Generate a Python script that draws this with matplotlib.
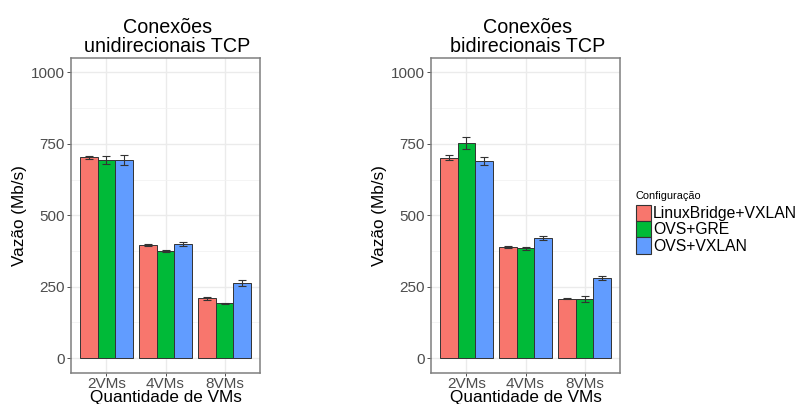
import matplotlib
matplotlib.use('Agg')
from matplotlib import pyplot as plt
from matplotlib.patches import Patch
from matplotlib.ticker import MultipleLocator
import numpy as np

plt.rcParams['font.family'] = ['Liberation Sans', 'DejaVu Sans']

grupos = ['2VMs', '4VMs', '8VMs']
configs = ['LinuxBridge+VXLAN', 'OVS+GRE', 'OVS+VXLAN']
cores = ['#F8766D', '#00BA38', '#619CFF']

# vazao media (Mb/s) e desvio, uma linha por configuracao
uni_media = [[703, 396, 210],
             [694, 375, 192],
             [694, 401, 263]]
uni_erro = [[5, 3, 5],
            [13, 5, 2],
            [17, 7, 11]]
bi_media = [[701, 389, 208],
            [753, 384, 208],
            [689, 420, 281]]
bi_erro = [[9, 3, 2],
           [20, 6, 10],
           [14, 6, 6]]

W, H = 798, 404
fig = plt.figure(figsize=(W / 100, H / 100), dpi=100)

def painel(px0, px1, py0, py1, media, erro, titulo):
    ax = fig.add_axes([px0 / W, 1 - py1 / H, (px1 - px0) / W, (py1 - py0) / H])
    x = np.arange(1, len(grupos) + 1)
    larg = 0.3
    for i in range(len(configs)):
        xs = x + (i - 1) * larg
        ax.bar(xs, media[i], width=larg, color=cores[i], edgecolor='#333333',
               linewidth=0.7, zorder=3)
        ax.errorbar(xs, media[i], yerr=erro[i], fmt='none', ecolor='#333333',
                    elinewidth=0.8, capsize=3, capthick=0.8, zorder=4)
    ax.set_xlim(0.4, 3.6)
    ax.set_ylim(-50, 1050)
    ax.set_xticks(x)
    ax.set_xticklabels(grupos)
    ax.yaxis.set_major_locator(MultipleLocator(250))
    ax.yaxis.set_minor_locator(MultipleLocator(125))
    ax.grid(True, which='major', color='#EBEBEB', linewidth=1.0, zorder=0)
    ax.grid(True, which='minor', axis='y', color='#F2F2F2', linewidth=0.6, zorder=0)
    ax.set_axisbelow(True)
    for s in ax.spines.values():
        s.set_color('#7F7F7F')
        s.set_linewidth(1.1)
    ax.tick_params(axis='both', which='major', labelsize=11, labelcolor='#4D4D4D',
                   color='#333333', length=3, width=0.6, pad=1.5)
    ax.tick_params(axis='x', which='major', length=2.5, pad=0.5)
    ax.tick_params(axis='y', which='minor', length=0)
    ax.set_xlabel('Quantidade de VMs', fontsize=12.3, labelpad=-0.5)
    ax.set_ylabel('Vazão (Mb/s)', fontsize=12.3, labelpad=3)
    ax.set_title(titulo, fontsize=14.2, x=0.51, pad=4, linespacing=1.05)
    return ax

painel(71, 260, 58, 372.5, uni_media, uni_erro, 'Conexões\nunidirecionais TCP')
painel(431, 620, 58, 372.5, bi_media, bi_erro, 'Conexões\nbidirecionais TCP')

alcas = [Patch(facecolor=c, edgecolor='#333333', linewidth=0.8) for c in cores]
leg = fig.legend(alcas, configs, loc='upper left',
                 bbox_to_anchor=(634 / W, 1 - 189 / H), frameon=False,
                 title='Configuração', title_fontsize=7.9, fontsize=11.3,
                 handlelength=1.0, handleheight=1.2, labelspacing=0.0,
                 handletextpad=0.1, borderpad=0.1, borderaxespad=0)
leg._legend_box.align = 'left'
leg._legend_box.sep = 3

fig.savefig('out.png', dpi=100)
